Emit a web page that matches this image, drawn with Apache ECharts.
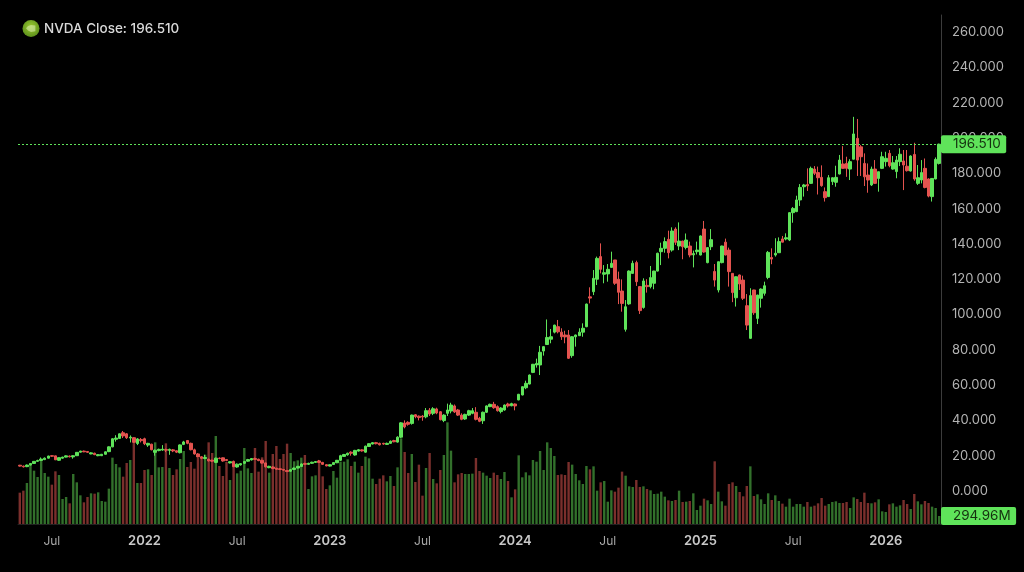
<!DOCTYPE html>
<html>
<head>
<meta charset="utf-8">
<title>NVDA weekly</title>
<script src="https://cdn.jsdelivr.net/npm/echarts@6/dist/echarts.min.js"></script>
<style>
  html, body { margin: 0; padding: 0; background: #000; }
  #chart { width: 1024px; height: 572px; }
</style>
</head>
<body>
<div id="chart"></div>
<script>
// Weekly bars for NVDA, first bar in the week of 3 May 2021.
const firstWeek = '2021-05-03';
const lastClose = 196.51;
const lastVolume = 294.96;
const priceTicks = [0, 20, 40, 60, 80, 100, 120, 140, 160, 180, 200, 220, 240, 260];
const timeTicks = {
  '2021-07-05': 'Jul', '2022-01-03': '2022', '2022-07-04': 'Jul', '2023-01-02': '2023',
  '2023-07-03': 'Jul', '2024-01-01': '2024', '2024-07-01': 'Jul', '2024-12-30': '2025',
  '2025-06-30': 'Jul', '2025-12-29': '2026'
};

// Each row: open, close, low, high.
const ohlc = [
  [14.6,14.1,13.8,14.8],[14.1,13.7,13.3,14.4],[13.8,14.7,13.5,15],[14.7,15.6,14.5,15.8],[15.6,16.8,15.4,17],
  [16.8,17.3,16.5,17.7],[17.3,18.1,17,19],[17.8,18.6,17.5,19],[18.6,19.8,18.4,20],[20,19.7,19.3,20.3],
  [19.9,17.7,17.5,20],[17.4,18.9,17,19],[18.6,19.2,18.3,19.4],[19.2,19.9,19,20.2],[19.8,19.4,19,20.1],
  [19.3,20,18.3,20.3],[20,21.9,19.8,22.1],[22,22.6,21.8,22.8],[22.6,22.2,22,22.9],[22.4,21.9,21.6,22.6],
  [21,21.6,20.8,22],[21.4,20.6,20.3,21.7],[20,20.6,19.7,20.9],[20,20.8,19.8,21],[20.8,22.2,20.6,22.4],
  [22.3,25,22,25.3],[25,29.6,24.8,29.9],[29.3,30,28,31.6],[29.8,32.4,29.5,32.6],[33,31.2,30,34],
  [32.4,30.2,29.5,32.8],[30,30.5,27.5,31.5],[30.2,27.6,27.2,30.6],[26.9,29.5,26,30],[29.2,28.5,27.5,30],
  [29.6,26.8,26,30.2],[26,27,25,27.3],[26.5,23.4,23,26.8],[21.9,23.1,20,23.5],[22.9,23.6,22.5,24],
  [23.2,23.7,22.8,26],[23.5,23.1,22,24],[23,23.6,20.5,24],[23.3,22.7,22,23.8],[22.8,22,21.5,23],
  [21.7,26.1,21.3,26.4],[26.4,27.8,26,28.4],[28.6,27,26.5,28.9],[27,23.4,23,27.4],[23.3,21,20.6,24],
  [21,19.3,19,21.5],[19.4,18.5,18,19.8],[18.4,19,18,20.5],[18,17.1,16.7,18.3],[17.5,16.9,16.5,17.7],
  [16.2,18.6,15.8,18.9],[18.6,18.4,18,19],[18.8,17,16.6,19],[17.8,17.3,16.9,18.1],[15.9,16.6,15.6,16.9],
  [16.8,13.8,13.5,17.2],[13.6,15.2,13.2,15.6],[14.8,15.5,14.4,15.8],[15.7,16.7,15.3,17],[16.9,17.8,16.6,18.2],
  [17.6,18.4,17.3,18.7],[18.4,17.9,17.6,18.9],[18,17.2,16.9,18.3],[17.4,15.8,15.5,17.7],[15.9,13.7,13.4,16.1],
  [13.2,14,12.9,14.3],[13.6,12.7,12.4,14],[12.9,12.3,12,13.1],[12.6,12.2,11.9,12.9],[12.2,11.8,11.5,12.4],
  [11.6,11,10.8,11.9],[11.2,12.1,10.9,12.4],[12.2,13,12,13.3],[13,14,12.8,14.2],[13.9,15.3,13.7,15.6],
  [15.6,15.1,14.9,16],[15.1,15.7,14.9,16],[15.7,16.3,15.4,16.6],[16.2,16.7,15.9,17],[17,16.2,15.9,17.6],
  [16.2,15.1,14.8,16.5],[14.9,14.2,14,15.2],[14.1,14.9,13.9,15.1],[15,16.1,14.8,16.3],[16,17.4,15.8,17.6],
  [17.4,20,17,20.5],[19.6,20.7,19.3,21],[20.5,21.4,20,21.7],[22,21.4,20,22.5],[20.4,23,20,23.3],
  [22.6,23.4,22.3,23.8],[23.3,22.7,22.3,23.6],[22,25.4,21.7,25.7],[25.2,26.8,25,27],[26.6,27.4,26.4,27.7],
  [27.4,26.8,26.4,27.8],[27,26.2,25.8,27.4],[27,26.6,26.2,27.3],[26.4,27,26.1,27.4],[27,28.2,26.7,28.6],
  [28.6,27.9,27.6,29],[27.7,30.5,27.4,31],[30.5,38.6,30,39],[38.5,36.3,35.5,40],[38.9,37.8,37,39.5],
  [38.3,43,37.6,43.3],[43.2,42.1,41.2,43.6],[42.4,41.6,40,42.8],[42.4,41.9,39.8,43],[42,45.5,41.2,47],
  [45.8,43.6,42.5,47],[44,46.6,43,47.5],[46.5,44.2,43.5,47.2],[44.9,40.4,40,45.3],[39.9,43,39,43.5],
  [44,45.9,42.5,49.5],[45.3,48.7,44,50],[48.2,44.8,44.2,49],[45.9,43,42.5,46.5],[43,40.6,40.1,44],
  [40.8,43.4,40.3,43.8],[43,45.5,42.5,46],[44,45.5,43.5,47],[44.6,40.6,40,47.5],[41.2,39.5,39,42],
  [39.8,44.6,38,45],[44.6,48.2,44.2,48.5],[47.8,49.1,47.5,49.5],[49.1,47.2,46.6,50.5],[47.8,45.5,45,48.5],
  [45,47,44,47.5],[45.9,48.7,45.5,49],[49.3,48.2,47.3,50],[48.3,49.5,48,50],[49.3,48.2,45.7,49.6],
  [51.6,54.8,51.4,55],[54.4,59.1,54.2,59.3],[58.5,61,57.7,62.5],[60.6,65.7,60.4,66],[67.2,71.8,66.8,72],
  [71.4,72.3,69.9,75],[71.4,78.6,65.7,82.2],[79.3,81.8,76.7,82],[83,87,83,97.2],[86,87.4,83.7,91.8],
  [90,94,89.3,94.2],[93.1,90.2,89.3,96.9],[90,87.4,85.6,92.2],[88.4,87.3,83.7,90.8],[88.4,75.2,74.8,91.2],
  [76.7,87.4,75.5,87.8],[87.4,88.4,81.8,88.6],[88,90,87.8,92.2],[90,92.2,87.4,95],[93.1,105.9,92.8,106.2],
  [110,109.3,106.3,115.4],[112.9,120.5,111,125.2],[120,131.8,116.7,132.8],[132.8,125.6,123.3,140.3],[122.8,123.7,117.7,128],
  [123,125.6,118.6,128.6],[126.7,129,126.7,135.6],[130.9,117.7,116.8,130.9],[120,112.6,105.9,124.3],[113.3,106.3,101.6,119.9],
  [91.6,104.4,90.3,108.2],[106,124.6,105.5,125],[123.3,129,123.3,130.5],[129.4,118.6,116.2,130.5],[115.8,102.2,100.3,116],
  [104,119,103.3,120.5],[116.5,115.8,112.4,120],[115.8,120.9,114.8,127.5],[117.7,124.6,114.3,124.8],[124.6,134.7,124.4,135],
  [135.6,137.5,128,140.7],[137.5,141.3,135,143.7],[142.6,135,131.8,147.5],[136.5,147.3,135.6,149.4],[148.4,140.9,139.4,149.4],
  [138.8,141.6,136.5,152.2],[141.6,138.4,131.3,141.8],[138,142.2,136.9,145.9],[138.8,133.7,132.4,141.3],[133.8,134.5,126.7,136.2],
  [135.6,136.5,134,141.3],[133.7,144.5,133.5,144.8],[148.4,135.4,135,153],[129.4,137.9,129,138.2],[138.4,142.4,136.5,148.4],
  [124.4,119.5,115.8,128.6],[113.9,129.9,112.5,130],[129.4,138.8,129,139],[141,133.7,133.5,143],[136.5,124.3,115.8,137.9],
  [123.3,112.4,107,123.5],[109.5,121.4,104.5,121.6],[122.4,117.3,113.9,122.6],[119.5,109.2,108.2,122],[105,94,91.2,111.6],
  [86.5,110.7,86.1,114.9],[113.9,101,99.8,114],[97.8,111,94.6,111.2],[109.2,114.4,103.9,114.8],[112,116.3,110.7,118.6],
  [121,135.2,120,136],[132.3,131.4,128.5,137.5],[133.7,134.7,132.8,143.2],[135,141.3,135,143.7],[142.8,141,140.9,144.5],
  [142.8,143.5,142,146],[142.2,157.7,141.6,158],[157.7,160.1,152,160.9],[158.3,164.9,158,167.3],[164.9,172,161.5,173.9],
  [172.4,173.4,166.8,174],[173.6,172.9,170,182.8],[174.3,182.8,174,183.8],[182.4,180,179,184.1],[180.4,177.5,168,183.8],
  [177.7,173,172.4,184.5],[169.6,166.2,164,172],[166.8,177.5,166.6,179],[175.3,177.5,173.4,177.7],[174.9,177.7,172.4,184.3],
  [179.6,187.5,179.4,190.4],[185.3,182.8,182.6,195.4],[185.6,182.8,178,189.4],[182.4,186.6,176.2,188],[188,202.3,187.8,212],
  [199.8,187.5,178.5,210.8],[195,189.4,178.5,196],[185.6,178,172.8,191.3],[179,176.2,169,185.6],[173.4,182.4,172.8,183.8],
  [182.4,174.3,174,187.5],[177.1,180.9,169.6,181],[182.8,189.4,182.4,192.2],[186.6,188.5,183.8,192.2],[191.3,184.3,183.4,193.2],
  [182.4,186,182,189.8],[181,187.5,177.2,189.8],[186.6,190.8,184.1,194.2],[187,184.7,170.5,193.2],[184,181.5,181,193.2],
  [181.3,189.8,181,190.2],[190.7,176.8,175.8,197.3],[174.3,177.5,173.4,184.7],[176.2,180.4,174.3,187.5],[182.8,172,171.5,188.4],
  [176.8,167.1,166.4,177.2],[166.8,177.1,164,177.3],[176.8,187.9,176.6,189],[185.6,196.51,185,196.8]
];

// Weekly volume in millions of shares.
const volumes = [
  1155,1229,1512,2175,1966,1733,2360,1880,1745,1450,
  1942,1807,922,995,762,1844,1536,1057,799,995,
  1131,1118,1168,848,823,1303,2446,2212,2089,1745,
  2249,2360,3036,1512,1512,1991,2016,1807,3011,2089,
  2102,2974,2065,1807,2016,2397,2692,2102,2286,2040,
  2433,2458,2556,3011,2618,3245,2138,1770,2286,1622,
  2237,1868,1966,2802,2052,1880,2802,1930,2458,3060,
  1893,2581,2876,2397,2581,2962,2618,2311,2347,2446,
  2544,1290,1757,1794,2360,1757,1290,1426,1954,1708,
  2298,2298,2384,2138,2298,1893,2138,2483,2421,1671,
  1475,1671,1794,1573,1770,1401,2089,3159,2655,1880,
  2581,1549,2188,1045,2065,2618,1659,1499,1991,2544,
  3748,2704,1536,1831,1880,1844,1844,1856,2433,1954,
  1893,1782,1696,1893,1807,1659,1917,1585,983,1278,
  2532,1721,1905,1794,2360,2298,2692,1991,3011,2802,
  2507,1807,1831,1807,2286,2188,1844,1610,1475,2138,
  2016,2126,1229,1536,1585,823,1241,1192,1340,1930,
  1782,1389,1364,1622,1364,1389,1290,1241,1106,1118,
  1192,1008,873,848,885,1229,811,823,848,1131,
  516,676,934,873,737,2311,1192,836,676,1475,
  1536,1401,1180,1020,1401,2126,1032,1094,909,737,
  1131,885,1057,848,750,639,934,639,737,737,
  639,811,639,676,762,959,676,737,811,836,
  774,774,811,590,983,922,811,1155,774,762,
  799,909,467,442,725,762,639,688,885,737,
  553,1106,836,725,848,774,639,590,294.96
];

const weeks = ohlc.map((_, i) => {
  const d = new Date(firstWeek + 'T00:00:00Z');
  d.setUTCDate(d.getUTCDate() + 7 * i);
  return d.toISOString().slice(0, 10);
});

const UP = '#5fe35a';
const DOWN = '#e4534f';
const VOL_UP = '#32702b';
const VOL_DOWN = '#7a2f2c';
const FONT = 'Inter, "Liberation Sans", Arial, sans-serif';

const chart = echarts.init(document.getElementById('chart'), null, { renderer: 'canvas' });

const tagStyle = {
  show: true,
  position: 'end',
  distance: 0,
  backgroundColor: UP,
  color: '#15300f',
  fontFamily: FONT,
  fontSize: 13.5,
  lineHeight: 15,
  borderRadius: 2
};

chart.setOption({
  animation: false,
  backgroundColor: '#000',
  title: {
    text: 'NVDA Close: ' + lastClose.toFixed(3),
    left: 44,
    top: 21,
    padding: 0,
    textStyle: { color: '#d9d9d9', fontFamily: FONT, fontSize: 13.5, fontWeight: 500, lineHeight: 16 }
  },
  graphic: [
    {
      type: 'circle',
      shape: { cx: 31, cy: 28.5, r: 8.5 },
      style: {
        fill: new echarts.graphic.RadialGradient(0.5, 0.4, 0.6, [
          { offset: 0, color: '#9ccb2e' },
          { offset: 1, color: '#5c8f1c' }
        ])
      }
    },
    {
      type: 'polygon',
      shape: { points: [[26, 28.2], [28, 26], [31, 25], [35.4, 25.6], [35.4, 31.2], [31, 31.9], [28, 30.6]] },
      style: { fill: 'rgba(225,240,190,0.55)' }
    }
  ],
  grid: { left: 18, right: 83, top: 15, bottom: 48 },
  xAxis: {
    type: 'category',
    data: weeks,
    boundaryGap: true,
    axisLine: { show: true, onZero: false, lineStyle: { color: '#222', width: 1 } },
    axisTick: { show: false },
    splitLine: { show: false },
    axisLabel: {
      margin: 9,
      hideOverlap: false,
      interval: (i, week) => week in timeTicks,
      formatter: week => {
        const t = timeTicks[week];
        return t === 'Jul' ? '{m|Jul}' : '{y|' + t + '}';
      },
      rich: {
        m: { color: '#a8a8a8', fontFamily: FONT, fontSize: 12, lineHeight: 16 },
        y: { color: '#c8c8c8', fontFamily: FONT, fontSize: 13, fontWeight: 600, lineHeight: 16 }
      }
    }
  },
  yAxis: [
    {
      type: 'value',
      position: 'right',
      min: -18.7,
      max: 269.7,
      scale: true,
      splitLine: { show: false },
      axisTick: { show: false },
      axisLine: { show: true, lineStyle: { color: '#3c3c3c', width: 1 } },
      axisLabel: {
        customValues: priceTicks,
        margin: 11,
        color: '#b4b4b4',
        fontFamily: FONT,
        fontSize: 13,
        padding: [4, 0, 0, 0],
        formatter: v => v.toFixed(3)
      }
    },
    {
      type: 'value',
      position: 'right',
      min: 0,
      max: 18767,
      show: false,
      splitLine: { show: false }
    }
  ],
  series: [
    {
      type: 'bar',
      yAxisIndex: 1,
      barWidth: 2.4,
      z: 1,
      data: volumes.map((v, i) => ({
        value: v,
        itemStyle: { color: ohlc[i][1] >= ohlc[i][0] ? VOL_UP : VOL_DOWN }
      })),
      markLine: {
        silent: true,
        symbol: 'none',
        z: 6,
        lineStyle: { color: 'rgba(0,0,0,0)', width: 1 },
        data: [{ yAxis: lastVolume }],
        label: {
          ...tagStyle,
          padding: [3, 5.5, 0, 12],
          formatter: () => lastVolume.toFixed(2) + 'M'
        }
      }
    },
    {
      type: 'candlestick',
      barWidth: 3,
      z: 3,
      data: ohlc,
      itemStyle: {
        color: UP,
        color0: DOWN,
        borderColor: UP,
        borderColor0: DOWN,
        borderWidth: 1
      },
      markLine: {
        silent: true,
        symbol: 'none',
        z: 6,
        lineStyle: { color: UP, type: [2, 2], width: 1 },
        data: [{ yAxis: lastClose }],
        label: {
          ...tagStyle,
          padding: [3, 5.5, 0, 12],
          formatter: () => lastClose.toFixed(3)
        }
      }
    }
  ]
});
</script>
</body>
</html>
